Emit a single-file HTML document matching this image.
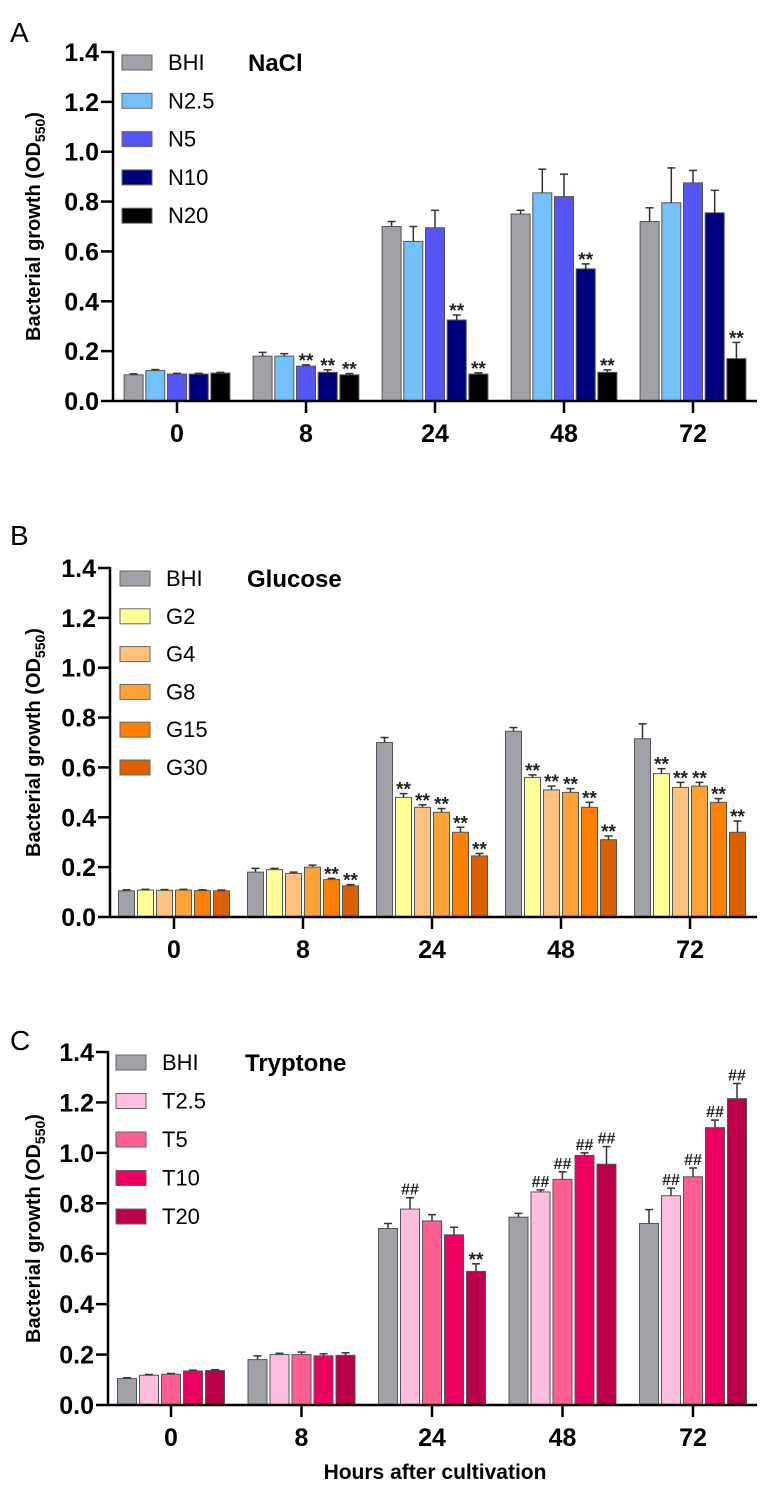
<!DOCTYPE html>
<html><head><meta charset="utf-8"><style>
html,body{margin:0;padding:0;background:#fff;}
svg{display:block;font-family:"Liberation Sans",Arial,sans-serif;}
</style></head><body>
<svg id="fig" width="770" height="1487" viewBox="0 0 770 1487" xmlns="http://www.w3.org/2000/svg"></svg>
<script>
const hours = ["0","8","24","48","72"];
const yTicks = [0,0.2,0.4,0.6,0.8,1.0,1.2,1.4];

// Panel A NaCl
const seriesA = ["BHI","N2.5","N5","N10","N20"];
const colorsA = ["#a1a1a8","#74c0f8","#5555f6","#00007f","#000000"];
const valsA = [
 [0.105,0.18,0.70,0.75,0.72],
 [0.122,0.18,0.64,0.835,0.795],
 [0.108,0.14,0.695,0.82,0.875],
 [0.108,0.115,0.325,0.53,0.755],
 [0.112,0.105,0.108,0.115,0.17]];
const errA = [
 [0.004,0.015,0.02,0.015,0.055],
 [0.004,0.01,0.06,0.095,0.14],
 [0.003,0.005,0.07,0.09,0.05],
 [0.003,0.01,0.02,0.02,0.09],
 [0.003,0.005,0.005,0.01,0.065]];
const sigA = [
 ["","","","",""],["","","","",""],["","**","","",""],["","**","**","**",""],["","**","**","**","**"]];

// Panel B Glucose
const seriesB = ["BHI","G2","G4","G8","G15","G30"];
const colorsB = ["#a1a1a8","#ffff99","#ffc080","#ffa236","#ff8000","#db6000"];
const valsB = [
 [0.105,0.18,0.70,0.745,0.715],
 [0.108,0.19,0.48,0.56,0.575],
 [0.107,0.175,0.44,0.51,0.52],
 [0.108,0.2,0.42,0.50,0.525],
 [0.106,0.15,0.34,0.44,0.46],
 [0.105,0.125,0.245,0.31,0.34]];
const errB = [
 [0.004,0.015,0.02,0.015,0.06],
 [0.003,0.005,0.015,0.01,0.02],
 [0.003,0.005,0.01,0.015,0.02],
 [0.003,0.008,0.015,0.015,0.015],
 [0.003,0.005,0.02,0.02,0.015],
 [0.003,0.005,0.01,0.015,0.045]];
const sigB = [
 ["","","","",""],["","","**","**","**"],["","","**","**","**"],["","","**","**","**"],["","**","**","**","**"],["","**","**","**","**"]];

// Panel C Tryptone
const seriesC = ["BHI","T2.5","T5","T10","T20"];
const colorsC = ["#a1a1a8","#ffbde0","#ff5e92","#ee0062","#bb0049"];
const valsC = [
 [0.105,0.18,0.70,0.745,0.72],
 [0.118,0.2,0.777,0.845,0.83],
 [0.122,0.2,0.73,0.895,0.905],
 [0.135,0.195,0.675,0.99,1.10],
 [0.137,0.197,0.53,0.955,1.215]];
const errC = [
 [0.003,0.015,0.02,0.015,0.055],
 [0.003,0.005,0.045,0.008,0.03],
 [0.003,0.01,0.025,0.03,0.035],
 [0.003,0.008,0.03,0.01,0.03],
 [0.003,0.01,0.03,0.07,0.06]];
const sigC = [
 ["","","","",""],["","","##","##","##"],["","","","##","##"],["","","","##","##"],["","","**","##","##"]];

const NS="http://www.w3.org/2000/svg";
const svg=document.getElementById('fig');
function mk(tag,attrs,parent){const e=document.createElementNS(NS,tag);for(const k in attrs)e.setAttribute(k,attrs[k]);(parent||svg).appendChild(e);return e;}

function panel(cfg){
  const g=mk('g',{});
  
  
  const y=v=>cfg.base-(v/1.4)*(cfg.base-cfg.top);
  const xc=i=>cfg.x0+i*cfg.pitch;
  const L=mk('text',{x:10,y:cfg.letterY,'font-size':28,fill:'#000'},g);L.textContent=cfg.letter;
  
  
  const T=mk('text',{x:cfg.titleX,y:cfg.top+19,'font-size':24,'font-weight':'bold'},g);T.textContent=cfg.title;
  
  
  const ya=mk('line',{x1:cfg.ax,y1:cfg.top-1,x2:cfg.ax,y2:cfg.base,stroke:'#000','stroke-width':2.5},g);
  
  
  yTicks.forEach(t=>{
    mk('line',{x1:cfg.ax-12,y1:y(t),x2:cfg.ax,y2:y(t),stroke:'#000','stroke-width':2.5},g);
    const tl=mk('text',{x:cfg.ax-14,y:y(t)+9,'font-size':25,'font-weight':'bold','text-anchor':'end'},g);
    tl.textContent=t.toFixed(1);
    
    
  });
  const my=(cfg.top+cfg.base)/2;
  const yt=mk('text',{x:0,y:0,'font-size':20,'font-weight':'bold','text-anchor':'middle',transform:`translate(40,${my}) rotate(-90)`},g);
  yt.innerHTML='Bacterial growth (OD<tspan font-size="14" dy="5">550</tspan><tspan dy="-5">)</tspan>';
  
  
  const n=cfg.series.length;
  cfg.vals.forEach((sv,s)=>{
    sv.forEach((v,h)=>{
      const cx=xc(h)+(s-(n-1)/2)*cfg.bp;
      const top=y(v), et=y(v+cfg.err[s][h]);
      const b=mk('rect',{x:cx-cfg.bw/2,y:top,width:cfg.bw,height:cfg.base-top,fill:cfg.colors[s],stroke:'#555','stroke-width':1},g);
      
      
      mk('line',{x1:cx,y1:top,x2:cx,y2:et,stroke:'#333','stroke-width':1.5},g);
      mk('line',{x1:cx-4,y1:et,x2:cx+4,y2:et,stroke:'#333','stroke-width':1.5},g);
      const sg=cfg.sig[s][h];
      if(sg){const st=mk('text',{x:cx,y:sg=='**'?et+2:et-3,'font-size':sg=='**'?19:16,'text-anchor':'middle','font-weight':'bold',fill:'#222'},g);st.textContent=sg;
        
        }
    });
  });
  const xa=mk('line',{x1:cfg.ax,y1:cfg.base,x2:757,y2:cfg.base,stroke:'#000','stroke-width':2.5},g);
  
  
  hours.forEach((hh,i)=>{
    mk('line',{x1:xc(i),y1:cfg.base,x2:xc(i),y2:cfg.base+12,stroke:'#000','stroke-width':2.5},g);
    const xl=mk('text',{x:xc(i),y:cfg.base+41,'font-size':25,'font-weight':'bold','text-anchor':'middle'},g);
    xl.textContent=hh;
    
    
  });
  cfg.series.forEach((nm,i)=>{
    const ly=cfg.top+10+i*cfg.lsp;
    const lg=mk('g',{},g);
    
    
    mk('rect',{x:cfg.lx,y:ly-7,width:30,height:15,fill:cfg.colors[i],stroke:'#666','stroke-width':1},lg);
    const lt=mk('text',{x:cfg.lx+46,y:ly+8,'font-size':22},lg);lt.textContent=nm;
  });
}

panel({id:'nacl',letter:'A',letterY:42,title:'NaCl',titleX:248,top:52,base:401,ax:113,x0:177,pitch:129,bw:19,bp:21.7,
  series:seriesA,colors:colorsA,vals:valsA,err:errA,sig:sigA,lx:122,lsp:38.3});
panel({id:'glucose',letter:'B',letterY:545,title:'Glucose',titleX:247,top:568,base:917,ax:110,x0:174,pitch:129,bw:16,bp:19,
  series:seriesB,colors:colorsB,vals:valsB,err:errB,sig:sigB,lx:120,lsp:37.8});
panel({id:'tryptone',letter:'C',letterY:1050,title:'Tryptone',titleX:245,top:1052,base:1405,ax:108,x0:171,pitch:130.5,bw:19,bp:22,
  series:seriesC,colors:colorsC,vals:valsC,err:errC,sig:sigC,lx:116,lsp:38.5});

const xt=mk('text',{x:435,y:1479,'font-size':21,'font-weight':'bold','text-anchor':'middle'});
xt.textContent='Hours after cultivation';


</script>
</body></html>
